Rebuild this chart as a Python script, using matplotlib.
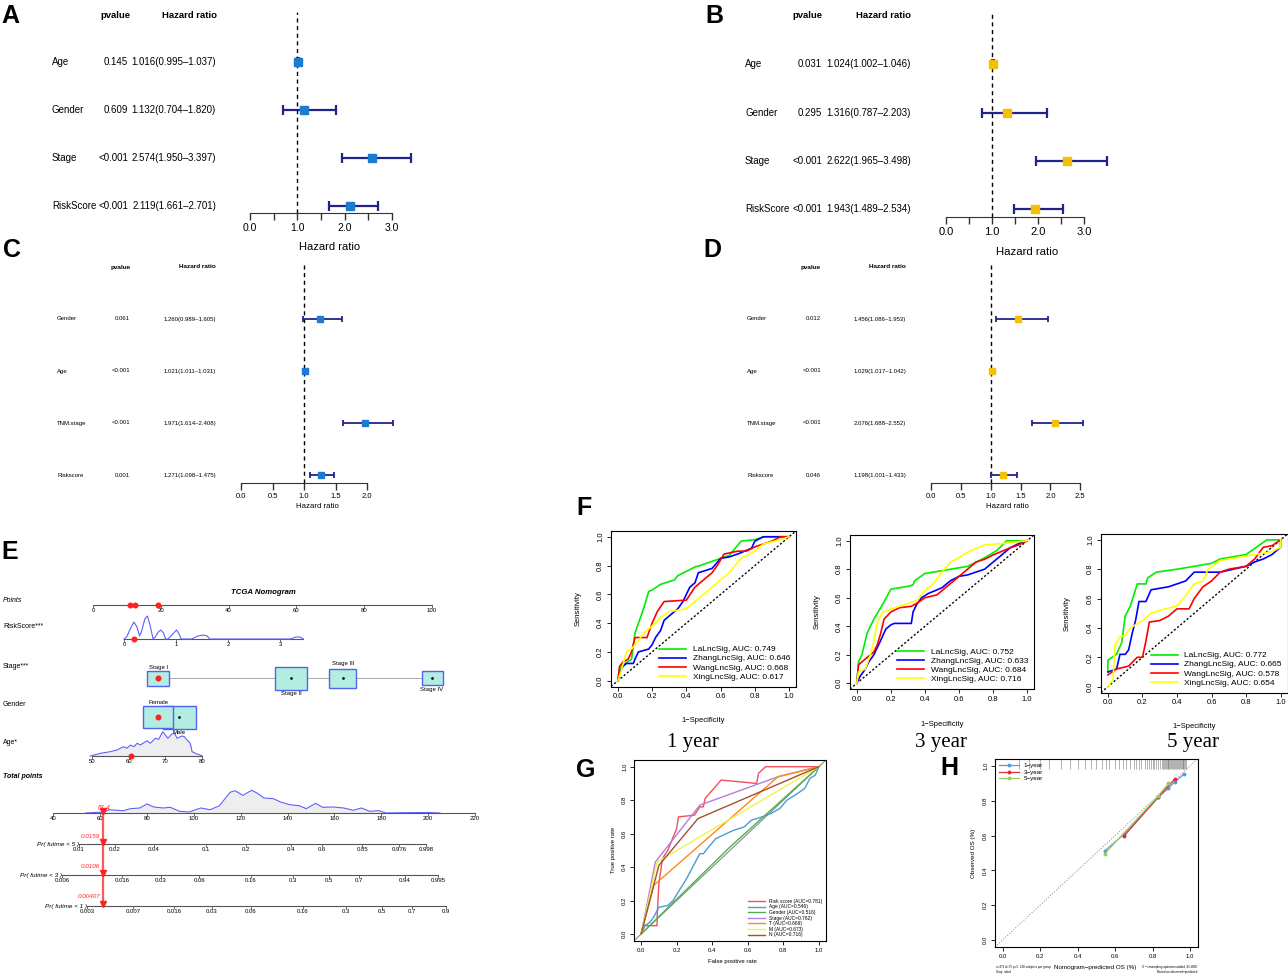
import matplotlib
matplotlib.use("Agg")
import matplotlib.pyplot as plt
from matplotlib.patches import Rectangle

W, H = 1288, 976
plt.rcParams["font.family"] = ["Liberation Sans", "DejaVu Sans"]

# ---------------- data ----------------
# A / B : univariate / multivariate Cox (TCGA)
a_names = ["Age", "Gender", "Stage", "RiskScore"]
a_p = ["0.145", "0.609", "<0.001", "<0.001"]
a_hr = [1.016, 1.132, 2.574, 2.119]
a_lo = [0.995, 0.704, 1.950, 1.661]
a_hi = [1.037, 1.820, 3.397, 2.701]

b_names = ["Age", "Gender", "Stage", "RiskScore"]
b_p = ["0.031", "0.295", "<0.001", "<0.001"]
b_hr = [1.024, 1.316, 2.622, 1.943]
b_lo = [1.002, 0.787, 1.965, 1.489]
b_hi = [1.046, 2.203, 3.498, 2.534]

# C / D : validation cohort
c_names = ["Gender", "Age", "TNM.stage", "Riskscore"]
c_p = ["0.061", "<0.001", "<0.001", "0.001"]
c_hr = [1.260, 1.021, 1.971, 1.271]
c_lo = [0.989, 1.011, 1.614, 1.098]
c_hi = [1.605, 1.031, 2.408, 1.475]

d_names = ["Gender", "Age", "TNM.stage", "Riskscore"]
d_p = ["0.012", "<0.001", "<0.001", "0.046"]
d_hr = [1.456, 1.029, 2.076, 1.198]
d_lo = [1.086, 1.017, 1.688, 1.001]
d_hi = [1.953, 1.042, 2.552, 1.433]

# E : nomogram
points_ticks = [0, 20, 40, 60, 80, 100]
rs_ticks = [0, 1, 2, 3]
rs_max = 3.45
rs_dens_x = [0.0, 0.05, 0.12, 0.19, 0.25, 0.3, 0.34, 0.4, 0.45, 0.5, 0.56, 0.6,
             0.66, 0.71, 0.76, 0.8, 0.85, 0.92, 1.01, 1.06, 1.1, 1.3, 1.42, 1.53,
             1.6, 1.65, 1.75, 3.2, 3.3, 3.38, 3.45]
rs_dens_h = [0, 2, 10, 17, 12, 3, 8, 20, 23, 14, 0, 2, 7, 9, 6, 0, 0, 4, 9, 5, 0,
             0, 3, 4, 3, 0, 0, 0, 2, 2, 0]
stage_levels = ["Stage I", "Stage II", "Stage III", "Stage IV"]
stage_pts = [19.2, 58.4, 73.7, 100.0]
gender_levels = ["Female", "Male"]
gender_pts = [19.2, 25.4]
age_ticks = [50, 60, 70, 80]
age_dens_x = [49.5, 52.3, 55, 56.8, 58.6, 59.5, 60.5, 61.4, 62.3, 63.2, 65, 65.9,
              67.3, 68.2, 69.3, 70, 70.7, 71.8, 72.5, 73.2, 74.5, 75.2, 75.9, 76.8,
              77.3, 78.2, 79.5, 80]
age_dens_h = [0, 2.7, 4.3, 6, 9.3, 7.7, 11, 9.3, 12.7, 11, 15.3, 12.7, 17.7, 16.7,
              24.3, 21, 17.7, 22, 22.7, 17.7, 20, 19.3, 16, 12.7, 4.3, 2.7, 1, 0]
total_ticks = [40, 60, 80, 100, 120, 140, 160, 180, 200, 220]
tot_dens_x = [54, 58, 62, 64, 70, 73, 77, 80, 83, 87, 90, 94, 98, 103, 107, 111,
              115.5, 117.6, 121, 124.7, 127, 130, 134, 137, 141, 145, 148, 152, 155,
              159.5, 164, 168, 171.6, 175, 179, 182, 190, 200, 205]
tot_dens_h = [0, 0.5, 1, 3.3, 2.3, 4.3, 5, 9, 6, 5, 5.7, 1.7, 1, 5, 3.3, 7.3, 20.7,
              22.3, 17.7, 22.7, 20, 15, 14.3, 11, 8.3, 7.3, 4.3, 9.7, 5.7, 6, 5, 2.7,
              5, 1.7, 2.3, 0, 0.3, 0.5, 0]
pr5_lab = ["0.01", "0.02", "0.04", "0.1", "0.2", "0.4", "0.6", "0.85", "0.976", "0.998"]
pr5_tot = [51.1, 66.4, 83.1, 105.2, 122.3, 141.5, 154.7, 171.8, 187.5, 199.1]
pr3_lab = ["0.006", "0.016", "0.03", "0.06", "0.16", "0.3", "0.5", "0.7", "0.94", "0.995"]
pr3_tot = [43.8, 69.4, 86.1, 102.3, 124.4, 142.3, 157.7, 170.5, 190.1, 204.2]
pr1_lab = ["0.003", "0.007", "0.016", "0.03", "0.06", "0.16", "0.3", "0.5", "0.7", "0.9"]
pr1_tot = [54.5, 74.1, 91.6, 107.8, 124.4, 146.6, 164.9, 180.3, 193.1, 207.6]
# the highlighted patient
obs_points = [10.9, 12.4, 19.2]
obs_rs = 0.2
obs_age = 60.5
obs_total = 61.4
obs_pr = ["0.0159", "0.0106", "0.00407"]

# F : time-dependent ROC of four signatures
sig_names = ["LaLncSig", "ZhangLncSig", "WangLncSig", "XingLncSig"]
auc_1y = [0.749, 0.646, 0.668, 0.617]
auc_3y = [0.752, 0.633, 0.684, 0.716]
auc_5y = [0.772, 0.665, 0.578, 0.654]
la_1y = ([0, 0.02, 0.08, 0.1, 0.15, 0.18, 0.2, 0.25, 0.33, 0.35, 0.45, 0.48, 0.6, 0.65, 0.72, 0.8, 0.85, 1],
         [0, 0.1, 0.15, 0.33, 0.5, 0.62, 0.63, 0.67, 0.7, 0.73, 0.79, 0.8, 0.85, 0.87, 0.97, 0.98, 1.0, 1])
zh_1y = ([0, 0.01, 0.03, 0.05, 0.09, 0.1, 0.12, 0.18, 0.2, 0.22, 0.25, 0.27, 0.3, 0.35, 0.38, 0.4, 0.42,
          0.45, 0.47, 0.55, 0.6, 0.65, 0.7, 0.78, 0.8, 0.85, 1],
         [0, 0.05, 0.1, 0.12, 0.12, 0.15, 0.2, 0.22, 0.25, 0.3, 0.35, 0.42, 0.45, 0.5, 0.55, 0.6, 0.65,
          0.68, 0.75, 0.78, 0.85, 0.86, 0.88, 0.92, 0.97, 1.0, 1])
wa_1y = ([0, 0.01, 0.03, 0.06, 0.08, 0.1, 0.17, 0.2, 0.23, 0.27, 0.4, 0.45, 0.5, 0.55, 0.58, 0.62, 0.7,
          0.75, 0.8, 0.9, 0.95, 1],
         [0, 0.1, 0.13, 0.15, 0.2, 0.3, 0.3, 0.4, 0.48, 0.55, 0.56, 0.65, 0.7, 0.75, 0.8, 0.88, 0.9,
          0.9, 0.93, 0.97, 1.0, 1])
xi_1y = ([0, 0.02, 0.05, 0.08, 0.12, 0.15, 0.2, 0.25, 0.3, 0.4, 0.45, 0.5, 0.55, 0.6, 0.65, 0.72, 0.8,
          0.85, 0.95, 1],
         [0, 0.07, 0.2, 0.22, 0.28, 0.33, 0.38, 0.44, 0.48, 0.5, 0.55, 0.6, 0.65, 0.7, 0.75, 0.85, 0.9,
          0.95, 0.98, 1])
la_3y = ([0, 0.01, 0.03, 0.06, 0.1, 0.15, 0.2, 0.3, 0.33, 0.34, 0.4, 0.5, 0.65, 0.75, 0.82, 0.88, 1],
         [0, 0.15, 0.2, 0.35, 0.45, 0.55, 0.66, 0.68, 0.69, 0.72, 0.77, 0.79, 0.82, 0.88, 0.93, 1.0, 1])
zh_3y = ([0, 0.02, 0.05, 0.07, 0.1, 0.12, 0.14, 0.17, 0.2, 0.22, 0.32, 0.33, 0.35, 0.38, 0.42, 0.5,
          0.55, 0.6, 0.65, 0.7, 0.75, 0.8, 0.85, 0.9, 0.95, 1],
         [0, 0.05, 0.1, 0.15, 0.2, 0.25, 0.3, 0.38, 0.41, 0.42, 0.42, 0.5, 0.55, 0.6, 0.63, 0.67,
          0.72, 0.75, 0.76, 0.78, 0.8, 0.85, 0.9, 0.95, 0.98, 1])
wa_3y = ([0, 0.01, 0.05, 0.08, 0.1, 0.12, 0.14, 0.16, 0.2, 0.25, 0.32, 0.35, 0.4, 0.47, 0.5, 0.55, 0.6,
          0.65, 0.7, 0.75, 0.8, 0.9, 0.95, 1],
         [0, 0.13, 0.17, 0.2, 0.22, 0.27, 0.35, 0.45, 0.5, 0.53, 0.54, 0.56, 0.6, 0.62, 0.65, 0.7, 0.75,
          0.8, 0.85, 0.87, 0.9, 0.95, 0.97, 1])
xi_3y = ([0, 0.01, 0.05, 0.08, 0.1, 0.12, 0.15, 0.2, 0.3, 0.35, 0.4, 0.45, 0.5, 0.55, 0.6, 0.65, 0.75,
          0.85, 1],
         [0, 0.08, 0.1, 0.2, 0.3, 0.42, 0.5, 0.52, 0.56, 0.58, 0.65, 0.7, 0.78, 0.85, 0.88, 0.92, 0.97,
          0.98, 1])
la_5y = ([0, 0, 0.05, 0.08, 0.1, 0.13, 0.17, 0.22, 0.23, 0.28, 0.4, 0.6, 0.65, 0.8, 0.92, 1],
         [0.1, 0.18, 0.22, 0.3, 0.48, 0.55, 0.7, 0.7, 0.74, 0.78, 0.8, 0.84, 0.87, 0.9, 1.0, 1])
zh_5y = ([0, 0.05, 0.07, 0.1, 0.12, 0.14, 0.16, 0.18, 0.22, 0.25, 0.35, 0.45, 0.5, 0.65, 0.8, 0.85,
          0.9, 0.95, 1, 1],
         [0.1, 0.12, 0.22, 0.22, 0.25, 0.36, 0.45, 0.58, 0.58, 0.66, 0.68, 0.72, 0.78, 0.78, 0.82,
          0.85, 0.87, 0.9, 0.95, 1])
wa_5y = ([0, 0.05, 0.12, 0.17, 0.2, 0.22, 0.24, 0.3, 0.35, 0.4, 0.47, 0.5, 0.55, 0.6, 0.65, 0.7, 0.8,
          0.85, 0.9, 0.95, 1],
         [0.08, 0.12, 0.14, 0.2, 0.2, 0.31, 0.44, 0.45, 0.48, 0.53, 0.53, 0.6, 0.68, 0.72, 0.78, 0.8,
          0.82, 0.87, 0.95, 0.96, 1])
xi_5y = ([0, 0.03, 0.04, 0.07, 0.1, 0.13, 0.2, 0.25, 0.3, 0.4, 0.45, 0.5, 0.55, 0.58, 0.65, 0.75, 0.85,
          0.95, 1, 1],
         [0, 0.05, 0.28, 0.34, 0.35, 0.4, 0.45, 0.5, 0.52, 0.55, 0.62, 0.7, 0.72, 0.8, 0.86, 0.88, 0.9,
          0.92, 0.95, 1])

# G : ROC of clinical factors
g_names = ["Risk score", "Age", "Gender", "Stage", "T", "M", "N"]
g_auc = [0.781, 0.546, 0.516, 0.762, 0.669, 0.673, 0.716]
g_risk = ([0, 0.02, 0.09, 0.09, 0.1, 0.12, 0.15, 0.2, 0.21, 0.3, 0.33, 0.35, 0.36, 0.45, 0.65, 0.66, 0.7, 1],
          [0, 0.05, 0.05, 0.1, 0.3, 0.45, 0.5, 0.63, 0.7, 0.71, 0.76, 0.76, 0.81, 0.92, 0.9, 0.96, 1.0, 1])
g_age = ([0, 0.02, 0.05, 0.07, 0.1, 0.15, 0.18, 0.22, 0.25, 0.28, 0.3, 0.33, 0.35, 0.38, 0.42, 0.48,
          0.52, 0.58, 0.62, 0.68, 0.73, 0.78, 0.82, 0.85, 0.88, 0.92, 0.95, 0.98, 1],
         [0, 0.05, 0.07, 0.1, 0.16, 0.17, 0.2, 0.27, 0.32, 0.38, 0.42, 0.48, 0.48, 0.52, 0.57, 0.6,
          0.62, 0.64, 0.68, 0.7, 0.72, 0.75, 0.8, 0.82, 0.84, 0.87, 0.93, 0.95, 1])
g_gender = ([0, 0.5, 1], [0, 0.52, 1])
g_stage = ([0, 0.08, 0.33, 0.77, 1], [0, 0.43, 0.77, 0.94, 1])
g_t = ([0, 0.07, 0.77, 1], [0, 0.29, 0.94, 1])
g_m = ([0, 0.09, 1], [0, 0.43, 1])
g_n = ([0, 0.1, 0.32, 1], [0, 0.41, 0.69, 1])

# H : calibration
cal_1y = ([0.544, 0.65, 0.831, 0.885, 0.92, 0.968], [0.511, 0.609, 0.82, 0.872, 0.91, 0.952])
cal_3y = ([0.65, 0.83, 0.92], [0.60, 0.82, 0.927])
cal_5y = ([0.544, 0.831, 0.885], [0.494, 0.828, 0.9])
rug_pred = [0.09, 0.14, 0.2, 0.25, 0.31, 0.36, 0.4, 0.44, 0.47, 0.5, 0.53, 0.55, 0.57, 0.6,
            0.62, 0.64, 0.66, 0.68, 0.7, 0.71, 0.73, 0.74, 0.76, 0.77, 0.78, 0.79, 0.8, 0.81,
            0.82, 0.83, 0.84, 0.85, 0.855, 0.86, 0.865, 0.87, 0.875, 0.88, 0.885, 0.89, 0.895,
            0.9, 0.905, 0.91, 0.915, 0.92, 0.925, 0.93, 0.935, 0.94, 0.945, 0.95, 0.955, 0.96,
            0.965, 0.97, 0.975, 0.98]

# ---------------- helpers ----------------
fig = plt.figure(figsize=(W / 100, H / 100), dpi=100)


def box(x0, y0, x1, y1):
    """pixel box (origin top-left) -> figure rect"""
    return [x0 / W, 1 - y1 / H, (x1 - x0) / W, (y1 - y0) / H]


def ptext(x, y, s, **kw):
    fig.text(x / W, 1 - y / H, s, **kw)


CI_COL = "#22228C"


def forest(names, pvals, hr, lo, hi, mcol, zero, unit, right, top, base, rows,
           name_x, p_x, hr_x, head_y, ph_x, hh_x, ticks, tlabels, xlab,
           fs, fs_head, fs_tick, fs_xlab, ms, cap, lw):
    ax = fig.add_axes(box(zero, top, right, base))
    ax.set_xlim(0, (right - zero) / unit)
    ax.set_ylim(base, top)
    ax.patch.set_alpha(0)
    ax.axvline(1, color="black", lw=1, ls=(0, (3, 2.5)), zorder=1)
    xerr = [[h - l for h, l in zip(hr, lo)], [u - h for h, u in zip(hr, hi)]]
    ax.errorbar(hr, rows, xerr=xerr, fmt="s", ms=ms, mfc=mcol, mec=mcol,
                ecolor=CI_COL, elinewidth=lw, capsize=cap, capthick=lw, zorder=3)
    for s in ["top", "right", "left"]:
        ax.spines[s].set_visible(False)
    ax.spines["bottom"].set_bounds(ticks[0], ticks[-1])
    ax.spines["bottom"].set_color("#333333")
    ax.set_xticks(ticks)
    ax.set_xticklabels(tlabels)
    ax.set_yticks([])
    ax.tick_params(axis="x", length=5, width=1, color="#333333", labelsize=fs_tick, pad=2)
    for n, p, h, l, u, r in zip(names, pvals, hr, lo, hi, rows):
        ptext(name_x, r, n, ha="left", va="center", fontsize=fs)
        ptext(p_x, r, p, ha="right", va="center", fontsize=fs)
        ptext(hr_x, r, f"{h:.3f}({l:.3f}\u2013{u:.3f})", ha="right", va="center", fontsize=fs)
    ptext(ph_x, head_y, "pvalue", ha="center", va="center", fontsize=fs_head, weight="bold")
    ptext(hh_x, head_y, "Hazard ratio", ha="center", va="center", fontsize=fs_head, weight="bold")
    ptext(xlab[0], xlab[1], "Hazard ratio", ha="center", va="center", fontsize=fs_xlab)


# ---------------- A-D forest plots ----------------
big_ticks = [0, 0.5, 1, 1.5, 2, 2.5, 3]
big_labels = ["0.0", "", "1.0", "", "2.0", "", "3.0"]
forest(a_names, a_p, a_hr, a_lo, a_hi, "#1C7AD0", 250, 47.3, 416, 12, 213,
       [62, 110, 158, 206], 52, 128, 216, 15, 115, 190, big_ticks, big_labels, (330, 247),
       7, 6.8, 7.5, 8, 5.5, 3.5, 1.6)
forest(b_names, b_p, b_hr, b_lo, b_hi, "#F5C000", 946, 46, 1112, 12, 217,
       [64, 113, 161, 209], 745, 822, 911, 15, 807, 883, big_ticks, big_labels, (1027, 252),
       7, 6.8, 8, 8.2, 5.5, 3.5, 1.6)
c_ticks = [0, 0.5, 1, 1.5, 2]
forest(c_names, c_p, c_hr, c_lo, c_hi, "#1C7AD0", 241, 63, 400, 262, 483,
       [319, 371, 423, 475], 57, 130, 216, 267, 121, 197, c_ticks,
       [f"{t:.1f}" for t in c_ticks], (317, 507), 4.3, 4.6, 5.5, 5.6, 4.3, 2.5, 1.3)
d_ticks = [0, 0.5, 1, 1.5, 2, 2.5]
forest(d_names, d_p, d_hr, d_lo, d_hi, "#F5C000", 931, 59.7, 1096, 262, 483,
       [319, 371, 423, 475], 747, 821, 906, 267, 811, 887, d_ticks,
       [f"{t:.1f}" for t in d_ticks], (1007, 507), 4.3, 4.6, 5.5, 5.6, 4.3, 2.5, 1.3)

# ---------------- E nomogram ----------------
PPX, P0 = 3.39, 93.0          # pixels per point, pixel of 0 points


def pxx(p):
    return (p - P0) / PPX


def rs_pt(v):
    return pxx(124 + 52 * v)


def age_pt(a):
    return pxx(92 + 3.667 * (a - 50))


def tot_pt(t):
    return pxx(53 + 2.345 * (t - 40))


axe = fig.add_axes(box(0, 530, 480, 976))
axe.set_xlim(pxx(0), pxx(480))
axe.set_ylim(976, 530)
axe.axis("off")
LINE = "#555555"
DENS = "#6060FF"
RED = "#FF2020"
FS_N = 4.3


def nomo_axis(y, pos, labels, x0=None, x1=None):
    axe.plot([pos[0] if x0 is None else x0, pos[-1] if x1 is None else x1], [y, y],
             color=LINE, lw=0.8)
    axe.vlines(pos, y, y + 2.5, color=LINE, lw=0.6)
    for v, s in zip(pos, labels):
        axe.text(v, y + 5.5, s, ha="center", va="center", fontsize=FS_N)


def row_label(y, s, **kw):
    axe.text(pxx(3), y, s, ha="left", va="center", fontsize=5, **kw)


axe.text(pxx(263), 593, "TCGA Nomogram", ha="center", va="center", fontsize=5.6,
         weight="bold", style="italic")
row_label(601, "Points", style="italic")
nomo_axis(605, points_ticks, [str(t) for t in points_ticks])
axe.plot(obs_points, [605] * len(obs_points), "o", color=RED, ms=3.3, zorder=5)

row_label(627, "RiskScore***")
nomo_axis(639, [rs_pt(v) for v in rs_ticks], [str(t) for t in rs_ticks], x1=rs_pt(rs_max))
axe.plot([rs_pt(v) for v in rs_dens_x], [639 - h for h in rs_dens_h], color=DENS, lw=0.8)
axe.plot([rs_pt(obs_rs)], [639], "o", color=RED, ms=3.3, zorder=5)

row_label(667, "Stage***")
axe.plot([stage_pts[0], stage_pts[-1]], [678, 678], color="#AAAAAA", lw=0.7, zorder=1)
stage_box = [(22, 15), (32, 23), (27, 19), (21, 14)]
stage_lab_y = [667, 693, 664, 689]
for p, (bw, bh), lab, ly in zip(stage_pts, stage_box, stage_levels, stage_lab_y):
    axe.add_patch(Rectangle((p - bw / 2 / PPX, 678 - bh / 2), bw / PPX, bh,
                            fc="#B3ECE0", ec="#5064EE", lw=1, zorder=2))
    axe.text(p, ly, lab, ha="center", va="center", fontsize=FS_N, zorder=4)
    axe.plot([p], [678], "o", color="black", ms=0.9, zorder=3)
axe.plot([stage_pts[0]], [678], "o", color=RED, ms=3.3, zorder=5)

row_label(704, "Gender")
gender_box = [(30, 22), (33, 23)]
gender_lab_y = [703, 732]
for i in [1, 0]:
    p, (bw, bh) = gender_pts[i], gender_box[i]
    axe.add_patch(Rectangle((p - bw / 2 / PPX, 717 - bh / 2), bw / PPX, bh,
                            fc="#B3ECE0", ec="#5064EE", lw=1, zorder=2 + (1 - i)))
    axe.text(p, gender_lab_y[i], gender_levels[i], ha="center", va="center",
             fontsize=FS_N, zorder=5)
axe.plot([gender_pts[1]], [717], "o", color="black", ms=0.9, zorder=4)
axe.plot([gender_pts[0]], [717], "o", color=RED, ms=3.3, zorder=5)

row_label(743, "Age*")
ax_age = [age_pt(a) for a in age_dens_x]
axe.fill_between(ax_age, [756 - h for h in age_dens_h], 756, color="#EEEEEE", lw=0)
axe.plot(ax_age, [756 - h for h in age_dens_h], color=DENS, lw=0.8)
nomo_axis(756, [age_pt(a) for a in age_ticks], [str(a) for a in age_ticks])
axe.plot([age_pt(obs_age)], [756], "o", color=RED, ms=3.3, zorder=5)

row_label(777, "Total points", weight="bold", style="italic")
ax_tot = [tot_pt(t) for t in tot_dens_x]
axe.fill_between(ax_tot, [813 - h for h in tot_dens_h], 813, color="#EEEEEE", lw=0)
axe.plot(ax_tot, [813 - h for h in tot_dens_h], color=DENS, lw=0.8)
nomo_axis(813, [tot_pt(t) for t in total_ticks], [str(t) for t in total_ticks])

pr_rows = [(844, "Pr( futime < 5 )", pr5_tot, pr5_lab),
           (875, "Pr( futime < 3 )", pr3_tot, pr3_lab),
           (906, "Pr( futime < 1 )", pr1_tot, pr1_lab)]
for y, lab, tpos, tlab in pr_rows:
    pos = [tot_pt(t) for t in tpos]
    nomo_axis(y, pos, tlab)
    axe.text(pos[0], y + 0.5, lab, ha="right", va="center", fontsize=4.6, style="italic")

xo = tot_pt(obs_total)
axe.plot([xo, xo], [813, 906], color=RED, lw=1.6, alpha=0.75, zorder=6)
axe.plot([xo] * 4, [811, 842, 873, 904], "v", color=RED, ms=3.8, zorder=7)
axe.text(pxx(104), 808, f"{obs_total}", ha="center", va="center", fontsize=4.8,
         color=RED, style="italic")
for y, s in zip([836, 867, 897], obs_pr):
    axe.text(pxx(100), y, s, ha="right", va="center", fontsize=4.6, color=RED, style="italic")

# ---------------- F ROC panels ----------------
R_COLS = ["#00EE00", "#0000FF", "#FF0000", "#FFFF00"]


def r_axes(rect, fs):
    ax = fig.add_axes(box(*rect))
    ax.set_xlim(-0.04, 1.04)
    ax.set_ylim(-0.04, 1.04)
    t = [0, 0.2, 0.4, 0.6, 0.8, 1.0]
    ax.set_xticks(t)
    ax.set_yticks(t)
    ax.set_xticklabels([f"{v:.1f}" for v in t])
    ax.set_yticklabels([f"{v:.1f}" for v in t], rotation=90, va="center")
    ax.tick_params(length=3, width=0.6, labelsize=fs, pad=2)
    for s in ax.spines.values():
        s.set_linewidth(0.8)
    return ax


def roc_panel(rect, curves, aucs, title, ylab_x, xlab_xy, title_xy):
    ax = r_axes(rect, 5.5)
    ax.plot([-0.04, 1.04], [-0.04, 1.04], ls=(0, (1.5, 1.5)), color="black", lw=1)
    for (xs, ys), n, a, c in zip(curves, sig_names, aucs, R_COLS):
        ax.plot(xs, ys, color=c, lw=1.2, label=f"{n}, AUC: {a:.3f}")
    ax.legend(loc="lower right", frameon=False, fontsize=6, handlelength=3.2,
              borderaxespad=0.3, labelspacing=0.15, handletextpad=0.8)
    ptext(ylab_x, (rect[1] + rect[3]) / 2, "Sensitivity", rotation=90, ha="center",
          va="center", fontsize=5.5)
    ptext(xlab_xy[0], xlab_xy[1], "1\u2212Specificity", ha="center", va="center", fontsize=5.5)
    ptext(title_xy[0], title_xy[1], title, ha="center", va="center", fontsize=15,
          family=["Liberation Serif", "DejaVu Serif"])


roc_panel((611, 531, 796, 686.5), [la_1y, zh_1y, wa_1y, xi_1y], auc_1y, "1 year",
          578, (703, 721), (693, 742))
roc_panel((850, 535, 1034, 689), [la_3y, zh_3y, wa_3y, xi_3y], auc_3y, "3 year",
          817, (942, 724), (941, 743))
roc_panel((1101, 534, 1287.5, 692.5), [la_5y, zh_5y, wa_5y, xi_5y], auc_5y, "5 year",
          1067, (1194, 727), (1193, 743))

# ---------------- G ROC clinical ----------------
G_COLS = ["#F0505C", "#4C9BD6", "#4CB24C", "#B77CE0", "#FF8A1A", "#F2F24D", "#A0522D"]
axg = r_axes((634, 760, 826, 940.7), 4.3)
axg.plot([-0.04, 1.04], [-0.04, 1.04], color="#888888", lw=0.8)
for (xs, ys), n, a, c in zip([g_risk, g_age, g_gender, g_stage, g_t, g_m, g_n],
                              g_names, g_auc, G_COLS):
    axg.plot(xs, ys, color=c, lw=1.0, label=f"{n} (AUC={a:.3f})")
axg.legend(loc="lower right", frameon=False, fontsize=3.5, handlelength=3.5,
           borderaxespad=0.3, labelspacing=0.12, handletextpad=0.8)
ptext(613, 850, "True positive rate", rotation=90, ha="center", va="center", fontsize=4.3)
ptext(732, 962, "False positive rate", ha="center", va="center", fontsize=4.3)

# ---------------- H calibration ----------------
axh = r_axes((995, 759, 1197.5, 947), 4.3)
axh.plot([-0.04, 1.04], [-0.04, 1.04], ls=(0, (1, 1.5)), color="#999999", lw=0.8)
axh.vlines(rug_pred, 0.985, 1.04, color="#777777", lw=0.4)
for (xs, ys), lab, c in zip([cal_1y, cal_3y, cal_5y], ["1\u2212year", "3\u2212year", "5\u2212year"],
                            ["#5B9BD5", "#D62F3E", "#9ACD5A"]):
    axh.plot(xs, ys, color=c, lw=0.9, marker="o", ms=1.8, label=lab)
axh.legend(loc="upper left", frameon=False, fontsize=4.5, handlelength=3.2,
           borderaxespad=0.2, labelspacing=0.2, handletextpad=0.8)
ptext(973, 853, "Observed OS (%)", rotation=90, ha="center", va="center", fontsize=4.5)
ptext(1095, 967, "Nomogram\u2212predicted OS (%)", ha="center", va="center", fontsize=4.5)
ptext(996, 967, "n=371 d=75 p=5, 100 subjects per group", ha="left", va="center", fontsize=2.2)
ptext(996, 972, "Gray: ideal", ha="left", va="center", fontsize=2.2)
ptext(1197, 967, "X \u2212 resampling optimism added, B=1000", ha="right", va="center", fontsize=2.2)
ptext(1197, 972, "Based on observed\u2212predicted", ha="right", va="center", fontsize=2.2)

# ---------------- panel letters ----------------
for s, x, y in [("A", 10, 16), ("B", 714, 16), ("C", 12, 250), ("D", 712, 250),
                ("E", 10, 552), ("F", 584, 508), ("G", 586, 770), ("H", 949, 768)]:
    ptext(x, y, s, ha="center", va="center", fontsize=18, weight="bold")

fig.savefig("out.png", dpi=100)
